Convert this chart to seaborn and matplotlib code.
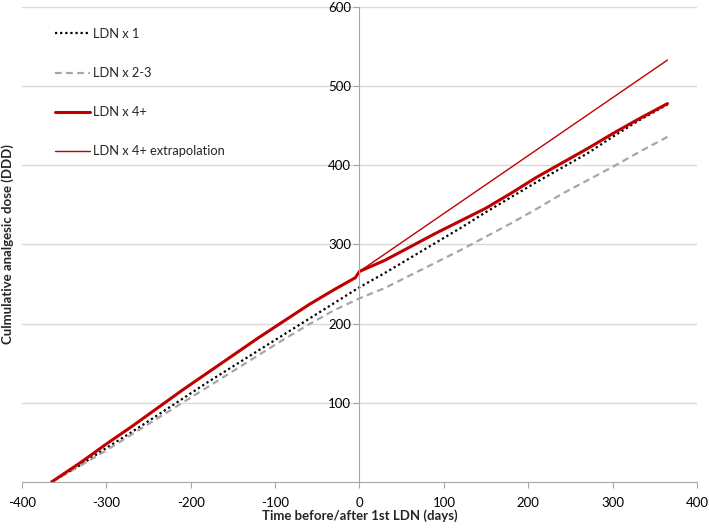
import pandas as pd
import matplotlib
matplotlib.use("Agg")
import matplotlib.pyplot as plt
import seaborn as sns

# Days relative to first LDN
days = [-365, -330, -300, -270, -240, -210, -180, -150, -120, -90, -60, -30, 0,
        30, 60, 90, 120, 150, 180, 210, 240, 270, 300, 330, 365]

# Cumulative analgesic dose (DDD)
ldn_1 = [0, 22, 43, 63, 84, 105, 126, 146, 166, 186, 206, 226, 246,
         264, 283, 302, 321, 341, 360, 379, 397, 415, 436, 456, 477]
ldn_2_3 = [0, 21, 40, 60, 80, 100, 120, 140, 160, 180, 199, 217, 232,
           245, 261, 277, 293, 310, 327, 345, 364, 381, 398, 416, 436]
ldn_4_days = [-365, -330, -300, -270, -240, -210, -180, -150, -120, -90, -60, -30, -5, 0,
              30, 60, 90, 120, 150, 180, 210, 240, 270, 300, 330, 365]
ldn_4 = [0, 25, 48, 70, 93, 116, 138, 160, 182, 203, 224, 243, 258, 266,
         280, 297, 314, 330, 346, 365, 385, 403, 421, 440, 458, 478]
extrap_days = [0, 365]
extrap = [266, 533]

sns.set_style("white")
plt.rcParams['font.family'] = ['Lato', 'DejaVu Sans']
plt.rcParams['axes.unicode_minus'] = False

fig = plt.figure(figsize=(7.09, 5.28), dpi=100)
ax = fig.add_axes([22/709, 1 - 482/528, 675/709, 475/528])

red = "#c00000"
sns.lineplot(x=days, y=ldn_1, ax=ax, color="black", linestyle=(0, (1, 1.3)),
             linewidth=1.6, label="LDN x 1")
sns.lineplot(x=days, y=ldn_2_3, ax=ax, color="#a6a6a6", linestyle=(0, (3, 2)),
             linewidth=1.6, label="LDN x 2-3")
sns.lineplot(x=ldn_4_days, y=ldn_4, ax=ax, color=red, linewidth=2.2,
             label="LDN x 4+")
sns.lineplot(x=extrap_days, y=extrap, ax=ax, color=red, linewidth=1.0,
             label="LDN x 4+ extrapolation")

ax.set_xlim(-400, 400)
ax.set_ylim(0, 600)
ax.set_xticks(range(-400, 401, 100))
ax.set_yticks(range(100, 601, 100))

# horizontal grid only
ax.grid(axis="y", color="#d9d9d9", linewidth=1)
ax.grid(axis="x", visible=False)
ax.set_axisbelow(True)

for s in ["top", "right"]:
    ax.spines[s].set_visible(False)
ax.spines["left"].set_position(("data", 0))
ax.spines["left"].set_color("#a6a6a6")
ax.spines["bottom"].set_color("#a6a6a6")
ax.tick_params(axis="both", which="both", direction="out", length=4,
               color="#a6a6a6", labelsize=9.5, labelcolor="black")
ax.tick_params(axis="y", pad=2)
ax.tick_params(axis="x", pad=7)
ax.xaxis.set_ticks_position("bottom")
ax.yaxis.set_ticks_position("left")

ax.set_xlabel("Time before/after 1st LDN (days)", fontsize=9.5, fontweight="bold")
ax.set_ylabel("Culmulative analgesic dose (DDD)", fontsize=9.5, fontweight="bold")
ax.xaxis.set_label_coords(0.5, -0.058)
ax.yaxis.set_label_coords(-0.012, 0.5)

ax.legend(loc="upper left", bbox_to_anchor=(0.049, 0.956), frameon=False,
          fontsize=9.3, handlelength=2.7, handletextpad=0.2, labelspacing=2.1,
          borderaxespad=0, borderpad=0)

plt.savefig("out.png", dpi=100)
